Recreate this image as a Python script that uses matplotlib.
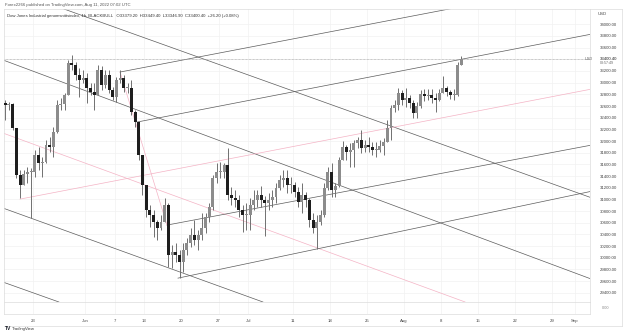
import numpy as np
import matplotlib
matplotlib.use("Agg")
import matplotlib.pyplot as plt

plt.rcParams['font.family'] = ['Liberation Sans', 'DejaVu Sans']

# x axis = weekday index counted from Mon 23 May 2022 (TradingView skips weekends)
BASE_DAY = "2022-05-23"
FIRST_BAR_DAY = "2022-05-17"   # half-day bars start here

open0 = 32650
highs = [32702, 32668, 32651, 32188, 31502, 31502, 31554, 31537, 31845, 31897,
         31725, 32017, 32068, 32240, 32702, 32737, 32822, 33388, 33474, 33353,
         33251, 33216, 33165, 32994, 32994, 33302, 33285, 33216, 33216, 32925,
         33097, 33216, 33131, 32994, 33045, 32531, 32325, 31760, 31245, 30903,
         30817, 30646, 30731, 31023, 30937, 30217, 30251, 30132, 30251, 30337,
         30508, 30646, 30474, 30766, 30766, 30937, 31417, 31622, 31640, 31622,
         31880, 31211, 31160, 31074, 30903, 30937, 31023, 31160, 31160, 31228,
         31057, 31108, 31160, 31280, 31417, 31502, 31502, 31382, 31297, 31211,
         31280, 31125, 31023, 30766, 30731, 30817, 31280, 31554, 31622, 31280,
         31725, 31999, 31931, 31965, 32017, 32068, 32188, 32017, 32068, 31982,
         31982, 32017, 32051, 32360, 32617, 32702, 32908, 32874, 32908, 32788,
         32702, 32668, 32874, 32891, 32891, 32891, 32822, 32891, 33114, 32942,
         32874, 32891, 33353, 33449.4]
lows = [32360, 32531, 32188, 31365, 31023, 31280, 31280, 30680, 31382, 31502,
        31382, 31622, 31811, 31725, 32137, 32531, 32531, 32822, 33216, 33045,
        32754, 32994, 32651, 32788, 32531, 32788, 32874, 32908, 32822, 32702,
        32668, 32994, 32840, 32822, 32445, 32240, 31674, 31074, 30697, 30525,
        30354, 30303, 30474, 30611, 29840, 29823, 29926, 29651, 29754, 30046,
        30183, 30217, 30132, 30303, 30423, 30611, 30817, 31280, 31365, 31365,
        30988, 30903, 30868, 30697, 30440, 30474, 30474, 30817, 30868, 30868,
        30371, 30817, 30868, 30937, 31160, 31211, 31108, 31108, 31040, 30868,
        30766, 30868, 30525, 30423, 30149, 30560, 30697, 31160, 31040, 31040,
        31211, 31708, 31674, 31554, 31554, 31880, 31794, 31811, 31811, 31760,
        31725, 31811, 31760, 31982, 32017, 32497, 32531, 32617, 32582, 32565,
        32394, 32394, 32565, 32685, 32702, 32651, 32497, 32685, 32822, 32771,
        32720, 32702, 32771, 33346.9]
closes = [32617, 32634, 32222, 31417, 31245, 31434, 31468, 31468, 31760, 31622,
          31640, 31931, 31897, 32154, 32617, 32634, 32788, 33336, 33302, 33131,
          33045, 33080, 32908, 32840, 32788, 33216, 32960, 33131, 32874, 32754,
          33045, 33080, 32908, 32908, 32497, 32325, 31760, 31245, 30817, 30731,
          30611, 30508, 30611, 30903, 30046, 30097, 30046, 29926, 30132, 30251,
          30388, 30303, 30388, 30508, 30697, 30868, 31365, 31468, 31468, 31588,
          31074, 31023, 30988, 30817, 30731, 30731, 30903, 30988, 31074, 30988,
          30937, 30988, 31040, 31194, 31331, 31365, 31245, 31245, 31125, 30954,
          31074, 30988, 30646, 30508, 30611, 30731, 31194, 31468, 31160, 31228,
          31674, 31897, 31811, 31845, 31965, 32017, 31880, 31931, 31897, 31845,
          31845, 31914, 31982, 32222, 32565, 32617, 32822, 32702, 32737, 32651,
          32480, 32599, 32805, 32771, 32788, 32737, 32702, 32822, 32908, 32840,
          32788, 32788, 33302, 33400.4]
last_price = 33400.40

tick_days = ["2022-05-23", "2022-06-01", "2022-06-07", "2022-06-13", "2022-06-20",
             "2022-06-27", "2022-07-01", "2022-07-11", "2022-07-18", "2022-07-25",
             "2022-08-01", "2022-08-08", "2022-08-15", "2022-08-22", "2022-08-29",
             "2022-09-01"]
tick_labels = ["23", "Jun", "7", "13", "20", "27", "Jul", "11", "18", "25",
               "Aug", "8", "15", "22", "29", "Sep"]
price_ticks = list(range(29400, 34001, 200))

# drawn lines: (weekday index, price) anchor pairs
line_a = [(-4.04, 33388), (53.91, 30645)]
line_b = [(6.06, 34176), (62.94, 31588)]
line_e = [(-4.04, 30851), (26.55, 29446)]
line_h = [(-4.04, 29583), (3.91, 29223)]
pink_down = [(-4.04, 32136), (57.55, 29274)]
ray_c = [(11.73, 33182), (55.39, 34245)]
ray_d = [(14.02, 32325), (76.01, 33850)]
ray_f = [(18.06, 30560), (76.01, 31948)]
ray_g = [(19.54, 29651), (76.01, 31159)]
pink_up = [(-1.75, 31005), (76.01, 32908)]
pink_steep = [(11.73, 33182), (18.06, 30560)]

W, H = 625, 335


def fx(px):
    return px / W


def fy(py):
    return 1 - py / H


fig = plt.figure(figsize=(W / 100, H / 100), dpi=100)
ax = fig.add_axes([fx(4), fy(302), fx(590) - fx(4), fy(9) - fy(302)])
sub = fig.add_axes([fx(4), fy(314), fx(590) - fx(4), fy(302) - fy(314)], sharex=ax)

xmin, xmax = -3.91, 75.07
ax.set_xlim(xmin, xmax)
ax.set_ylim(29242, 34262)

tick_pos = [np.busday_count(BASE_DAY, d) for d in tick_days]
grid_c = "#f1f1f1"
for a in (ax, sub):
    for t in tick_pos:
        a.axvline(t, color=grid_c, lw=0.5, zorder=0)
for p in price_ticks:
    ax.axhline(p, color=grid_c, lw=0.5, zorder=0)

# candles, two per weekday
n = len(closes)
start = np.busday_count(BASE_DAY, FIRST_BAR_DAY)
xs = start + 0.25 + 0.5 * np.arange(n)
opens = [open0] + closes[:-1]
for x, o, h, l, c in zip(xs, opens, highs, lows, closes):
    top = max(h, o, c)
    bot = min(l, o, c)
    ax.vlines(x, bot, top, color="#707070", lw=0.7, zorder=3)
    col = "#8c8c8c" if c >= o else "#1e1e1e"
    ax.bar(x, max(abs(c - o), 12), bottom=min(o, c), width=0.4,
           color=col, linewidth=0, zorder=4)

dark = "#5c5c5c"
pink = "#f4b3c5"
lw = 0.5
for ln, col in [(line_a, dark), (line_b, dark), (line_e, dark), (line_h, dark),
                (pink_down, pink)]:
    ax.axline(ln[0], ln[1], color=col, lw=lw, zorder=2)
for ln, col in [(ray_c, dark), (ray_d, dark), (ray_f, dark), (ray_g, dark),
                (pink_up, pink)]:
    (x1, y1), (x2, y2) = ln
    k = (y2 - y1) / (x2 - x1)
    ax.plot([x1, xmax + 1], [y1, y1 + k * (xmax + 1 - x1)], color=col, lw=lw,
            zorder=2)
ax.plot([p[0] for p in pink_steep], [p[1] for p in pink_steep], color=pink,
        lw=lw, zorder=2)

ax.axhline(last_price, color="#a0a0a0", lw=0.5, ls=(0, (1, 1)), zorder=2)

# axes styling
fs = 3.1
txt_c = "#444444"
spine_c = "#dcdcdc"
for a in (ax, sub):
    for s in a.spines.values():
        s.set_color(spine_c)
        s.set_linewidth(0.5)
    a.tick_params(length=0)
ax.set_xticks(tick_pos)
ax.tick_params(labelbottom=False)
ax.yaxis.tick_right()
ax.set_yticks(price_ticks)
ax.set_yticklabels(["" if p == 33400 else f"{p:.2f}" for p in price_ticks],
                   fontsize=fs, color=txt_c)
ax.tick_params(axis="y", pad=7)
sub.set_yticks([])
sub.set_ylim(0, 1)
sub.set_xticks(tick_pos)
sub.set_xticklabels(tick_labels, fontsize=fs, color=txt_c)
sub.tick_params(axis="x", pad=3.5)

# price label, header texts
fig.text(fx(600), fy(59.5), f"{last_price:.2f}", fontsize=fs, color="#222222",
         va="center")
fig.text(fx(600), fy(63.5), "03:57:49", fontsize=2.6, color="#666666", va="center")
fig.text(fx(593), fy(59.5), "USD", fontsize=2.8, color="#666666", va="center",
         ha="right")
fig.text(fx(598), fy(14), "USD", fontsize=fs, color=txt_c, va="center")
fig.text(fx(602), fy(308), "0.00", fontsize=2.8, color="#888888", va="center")

fig.text(fx(5), fy(5), "Forex2266 published on TradingView.com, Aug 11, 2022 07:02 UTC",
         fontsize=fs, color="#555555", va="center")
fig.text(fx(7), fy(15.5),
         "Dow Jones Industrial genomsnittsindex, 1h, BLACKBULL   O33379.20  H33449.40  "
         "L33346.90  C33400.40  +26.20 (+0.08%)",
         fontsize=fs, color="#333333", va="center")
fig.text(fx(5), fy(329), "TV", fontsize=3.6, color="#131722", va="center",
         fontweight="bold")
fig.text(fx(12), fy(329), "TradingView", fontsize=3.1, color="#333333", va="center")

fig.add_artist(plt.Line2D([fx(4), fx(622)], [fy(326), fy(326)], color=spine_c,
                          lw=0.5))
fig.add_artist(plt.Line2D([fx(622), fx(622)], [fy(9), fy(326)], color=spine_c,
                          lw=0.5))
fig.add_artist(plt.Line2D([fx(590), fx(622)], [fy(9), fy(9)], color=spine_c,
                          lw=0.5))

fig.savefig("out.png", dpi=100, facecolor="white")
